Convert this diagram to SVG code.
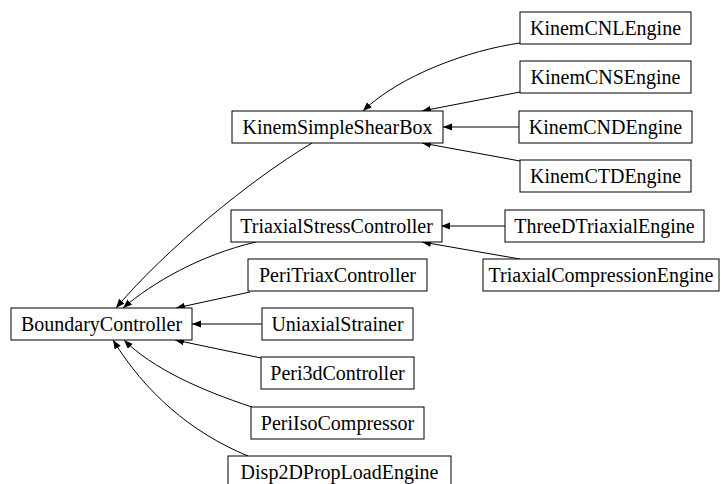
<svg xmlns="http://www.w3.org/2000/svg" width="721" height="484" viewBox="0 0 721 484">
<style>
.box{fill:#fff;stroke:#000;stroke-width:1}
.lbl{font-family:"Liberation Serif","Times New Roman",serif;font-size:20px;fill:#000;text-anchor:middle}
.e{fill:none;stroke:#000;stroke-width:1;marker-end:url(#ah)}
</style>
<defs>
<marker id="ah" markerUnits="userSpaceOnUse" markerWidth="10" markerHeight="8" refX="9" refY="3.5" orient="auto">
<path d="M0,0 L9,3.5 L0,7 z" fill="#000"/>
</marker>
</defs>
<rect width="721" height="484" fill="#fff"/>
<g id="connectors">
<path class="e" d="M520,43 C470,50 400,75 363,111"/>
<path class="e" d="M520,92 L422,111"/>
<path class="e" d="M519,127 L443,127"/>
<path class="e" d="M520,161 L422,143"/>
<path class="e" d="M505,226 L441,226"/>
<path class="e" d="M520,259 L422,242"/>
<path class="e" d="M312,143 C250,180 165,250 116,308"/>
<path class="e" d="M256,242 C200,255 152,283 123,308"/>
<path class="e" d="M250,292 L176,308"/>
<path class="e" d="M262,324 L192,324"/>
<path class="e" d="M261,358 L175,340"/>
<path class="e" d="M252,407 C200,390 152,368 124,340"/>
<path class="e" d="M248,456 C190,432 145,392 113,340"/>
</g>
<g id="KinemCNLEngine"><rect class="box" x="520" y="12" width="171" height="32"/><text class="lbl" x="605.5" y="35">KinemCNLEngine</text></g>
<g id="KinemCNSEngine"><rect class="box" x="520" y="61" width="171" height="32"/><text class="lbl" x="605.5" y="84">KinemCNSEngine</text></g>
<g id="KinemSimpleShearBox"><rect class="box" x="232" y="111" width="211" height="32"/><text class="lbl" x="337.5" y="134">KinemSimpleShearBox</text></g>
<g id="KinemCNDEngine"><rect class="box" x="519" y="111" width="173" height="32"/><text class="lbl" x="605.5" y="134">KinemCNDEngine</text></g>
<g id="KinemCTDEngine"><rect class="box" x="520" y="160" width="171" height="32"/><text class="lbl" x="605.5" y="183">KinemCTDEngine</text></g>
<g id="TriaxialStressController"><rect class="box" x="231" y="210" width="211" height="32"/><text class="lbl" x="336.5" y="233">TriaxialStressController</text></g>
<g id="ThreeDTriaxialEngine"><rect class="box" x="505" y="210" width="199" height="32"/><text class="lbl" x="604.5" y="233">ThreeDTriaxialEngine</text></g>
<g id="PeriTriaxController"><rect class="box" x="248" y="259" width="179" height="32"/><text class="lbl" x="337.5" y="282">PeriTriaxController</text></g>
<g id="TriaxialCompressionEngine"><rect class="box" x="483" y="259" width="236" height="32"/><text class="lbl" x="601" y="282">TriaxialCompressionEngine</text></g>
<g id="BoundaryController"><rect class="box" x="11" y="308" width="181" height="32"/><text class="lbl" x="101.5" y="331">BoundaryController</text></g>
<g id="UniaxialStrainer"><rect class="box" x="262" y="308" width="151" height="32"/><text class="lbl" x="337.5" y="331">UniaxialStrainer</text></g>
<g id="Peri3dController"><rect class="box" x="261" y="357" width="153" height="32"/><text class="lbl" x="337.5" y="380">Peri3dController</text></g>
<g id="PeriIsoCompressor"><rect class="box" x="251" y="407" width="173" height="32"/><text class="lbl" x="337.5" y="430">PeriIsoCompressor</text></g>
<g id="Disp2DPropLoadEngine"><rect class="box" x="228" y="456" width="223" height="32"/><text class="lbl" x="339.5" y="479">Disp2DPropLoadEngine</text></g>
</svg>
